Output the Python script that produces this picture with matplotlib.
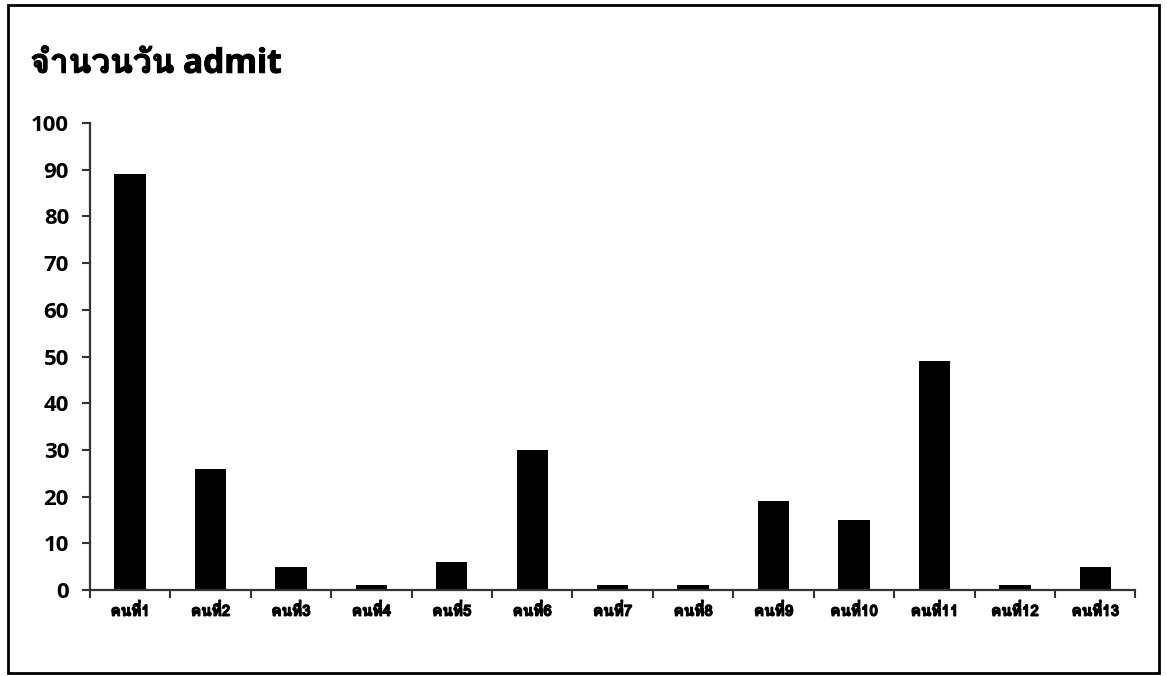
import matplotlib
matplotlib.use('Agg')
from matplotlib import pyplot as plt
from matplotlib import font_manager
from matplotlib.ft2font import FT2Font
from matplotlib.patches import Rectangle
import matplotlib.patheffects as pe
import numpy as np

people = ['คนที่1', 'คนที่2', 'คนที่3', 'คนที่4', 'คนที่5', 'คนที่6', 'คนที่7',
          'คนที่8', 'คนที่9', 'คนที่10', 'คนที่11', 'คนที่12', 'คนที่13']
days = [89, 26, 5, 1, 6, 30, 1, 1, 19, 15, 49, 1, 5]
yticks = [0, 10, 20, 30, 40, 50, 60, 70, 80, 90, 100]
title = 'จำนวนวัน admit'


def thai_family():
    # look for any installed font that can draw Thai
    for f in font_manager.fontManager.ttflist:
        try:
            cmap = FT2Font(f.fname).get_charmap()
        except Exception:
            continue
        if 0x0E04 in cmap and 0x0E19 in cmap:
            return f.name
    return None


fam = thai_family()
thai = ([fam] if fam else []) + ['DejaVu Sans']
plt.rcParams['font.family'] = thai

fig = plt.figure(figsize=(11.67, 6.76), dpi=100)
ax = fig.add_axes([0.077, 0.127, 0.896, 0.691])

x = np.arange(len(people))
ax.bar(x, days, width=0.39, color='black')

ax.set_xlim(-0.5, len(people) - 0.5)
ax.set_ylim(0, 100)
ax.set_yticks(yticks)
ax.set_yticklabels([str(v) for v in yticks], fontsize=16, fontweight='bold',
                   family=['Open Sans', 'DejaVu Sans'])

bold = [pe.withStroke(linewidth=0.9, foreground='black')]
ax.set_xticks(x)
ax.set_xticklabels(people, fontsize=11, fontweight='bold')
for t in ax.get_xticklabels():
    t.set_path_effects(bold)
ax.tick_params(axis='x', length=0, pad=9)
ax.set_xticks(np.arange(-0.5, len(people)), minor=True)
ax.tick_params(axis='x', which='minor', length=6, width=1.5, direction='out', color='#333333')
ax.tick_params(axis='y', length=6, width=1.5, direction='out', color='#333333', pad=9)

for s in ['top', 'right']:
    ax.spines[s].set_visible(False)
for s in ['left', 'bottom']:
    ax.spines[s].set_linewidth(1.6)
    ax.spines[s].set_color('#333333')

fig.text(0.026, 0.905, title, fontsize=24, fontweight='bold', ha='left', va='center',
         family=['Open Sans'] + thai,
         path_effects=[pe.withStroke(linewidth=0.8, foreground='black')])

fig.patches.append(Rectangle((0.007, 0.005), 0.986, 0.988, transform=fig.transFigure,
                             fill=False, edgecolor='black', linewidth=2))

plt.savefig('out.png', dpi=100)
